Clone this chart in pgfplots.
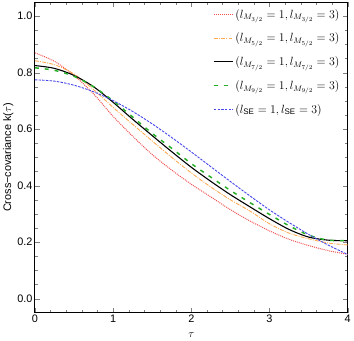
\documentclass[border=0pt]{standalone}
\usepackage{fontspec}
\setmainfont{Liberation Sans}
\usepackage{pgfplots}
\pgfplotsset{compat=1.18}
\usepackage{pgfplotstable}

\definecolor{cred}{RGB}{240,80,80}
\definecolor{corange}{RGB}{255,170,80}
\definecolor{cgreen}{RGB}{40,175,40}
\definecolor{cblue}{RGB}{70,70,235}

\pgfplotstableread{
t     m32   m52   m72   m92   se
0.00 0.870 0.842 0.825 0.817 0.7746
0.25 0.840 0.828 0.815 0.808 0.7698
0.50 0.790 0.795 0.790 0.787 0.7555
0.75 0.725 0.740 0.750 0.750 0.7322
1.00 0.645 0.677 0.695 0.700 0.7009
1.25 0.575 0.617 0.635 0.643 0.6625
1.50 0.510 0.558 0.577 0.585 0.6185
1.75 0.455 0.500 0.520 0.532 0.5702
2.00 0.405 0.445 0.465 0.478 0.5192
2.25 0.360 0.395 0.415 0.430 0.4669
2.50 0.315 0.350 0.368 0.383 0.4146
2.75 0.275 0.310 0.325 0.340 0.3636
3.00 0.240 0.265 0.283 0.298 0.3142
3.25 0.210 0.232 0.245 0.258 0.2694
3.50 0.188 0.212 0.218 0.225 0.2275
3.75 0.170 0.197 0.207 0.207 0.1898
4.00 0.157 0.190 0.205 0.206 0.1564
}\kdata

\begin{document}
\begin{tikzpicture}
\begin{axis}[
    scale only axis,
    width=316pt, height=314pt,
    xmin=0, xmax=4, ymin=-0.05, ymax=1.05,
    xtick={0,1,2,3,4},
    ytick={0,0.2,0.4,0.6,0.8,1.0},
    minor x tick num=4,
    minor y tick num=3,
    tick align=inside,
    major tick length=5pt,
    minor tick length=3pt,
    axis line style={line width=0.9pt},
    yticklabel style={xshift=1pt, /pgf/number format/.cd,fixed,fixed zerofill,precision=1},
    /pgf/number format/assume math mode=true,
    tick label style={font=\fontsize{11}{13}\selectfont},
    xticklabel style={yshift=1pt},
    xlabel={$\tau$},
    ylabel={Cross−covariance k($\tau$)},
    label style={font=\fontsize{11}{13}\selectfont},
    xlabel style={yshift=-3pt},
    ylabel style={yshift=-3pt},
    legend style={draw=none, fill=none, at={(rel axis cs:0.99,0.99)}, anchor=north east,
        font=\fontsize{11.5}{13}\selectfont, row sep=9.5pt, cells={anchor=west}},
    legend cell align=left,
    legend image code/.code={\draw[#1] (0pt,0pt) -- (19pt,0pt);},
    every axis plot/.append style={smooth, no marks},
    after end axis/.code={\path (rel axis cs:1,1) ++(3pt,2pt);},
]
\addplot[cred, line width=1pt, dash pattern=on 1pt off 1pt] table[x=t,y=m32] {\kdata};
\addlegendentry{$(l_{M_{3/2}}=1, l_{M_{3/2}}=3)$}
\addplot[corange, line width=0.9pt, dash pattern=on 4pt off 1.2pt on 1pt off 1.2pt] table[x=t,y=m52] {\kdata};
\addlegendentry{$(l_{M_{5/2}}=1, l_{M_{5/2}}=3)$}
\addplot[black, line width=1.1pt] table[x=t,y=m72] {\kdata};
\addlegendentry{$(l_{M_{7/2}}=1, l_{M_{7/2}}=3)$}
\addplot[cgreen, line width=1.5pt, dash pattern=on 4pt off 6pt] table[x=t,y=m92] {\kdata};
\addlegendentry{$(l_{M_{9/2}}=1, l_{M_{9/2}}=3)$}
\addplot[cblue, line width=0.9pt, dash pattern=on 2.5pt off 1.2pt] table[x=t,y=se] {\kdata};
\addlegendentry{$(l_{\mathrm{SE}}=1, l_{\mathrm{SE}}=3)$}
\end{axis}
\end{tikzpicture}
\end{document}
